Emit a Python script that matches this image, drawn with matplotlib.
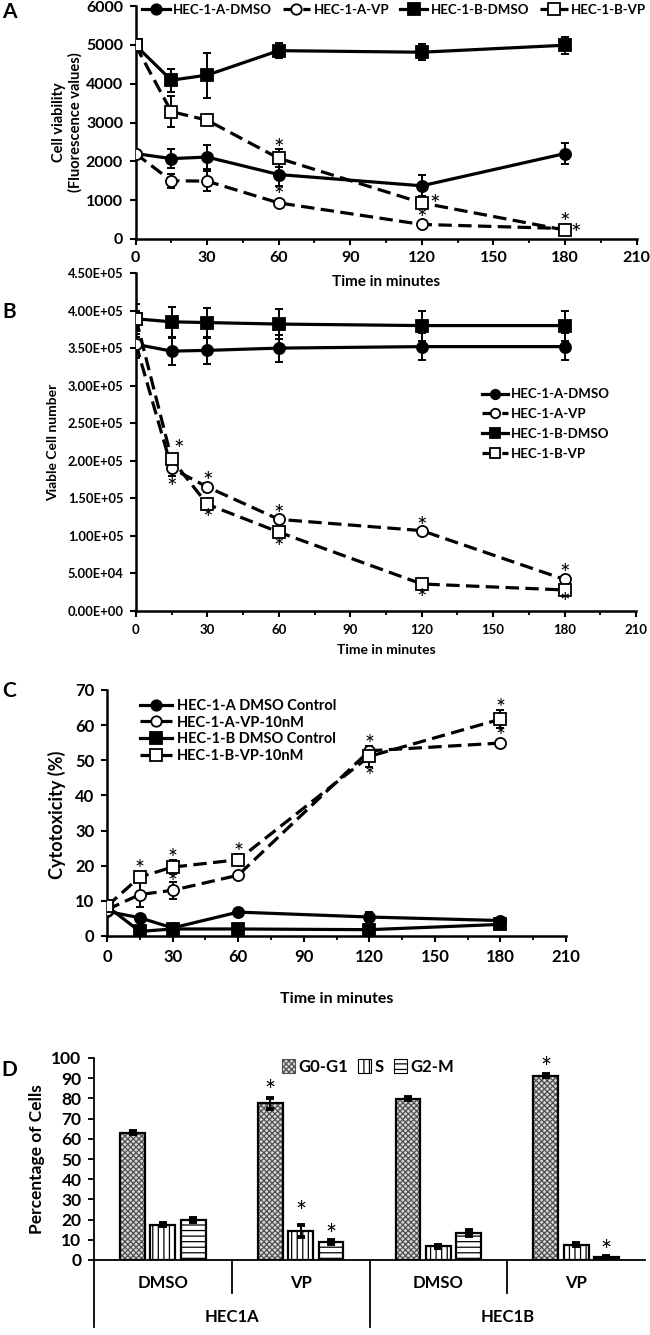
import matplotlib
matplotlib.use('Agg')
import matplotlib.pyplot as plt
from matplotlib.lines import Line2D
from matplotlib.patches import Patch
from matplotlib.ticker import MultipleLocator, FuncFormatter

plt.rcParams['font.family'] = ['Lato', 'DejaVu Sans']
plt.rcParams['font.weight'] = 'bold'
plt.rcParams['hatch.linewidth'] = 0.9

W, H = 650, 1335

# ---------------- data ----------------
time_min = [0, 15, 30, 60, 120, 180]

# Panel A : cell viability (fluorescence)
a_labels = ['HEC-1-A-DMSO', 'HEC-1-A-VP', 'HEC-1-B-DMSO', 'HEC-1-B-VP']
a_a_dmso = [2200, 2070, 2110, 1660, 1370, 2200]
a_a_dmso_err = [60, 240, 300, 300, 270, 260]
a_a_vp = [2200, 1500, 1490, 930, 375, 270]
a_a_vp_err = [60, 180, 260, 70, 60, 50]
a_b_dmso = [4990, 4090, 4220, 4850, 4810, 4990]
a_b_dmso_err = [60, 300, 580, 200, 210, 220]
a_b_vp = [4990, 3280, 3060, 2080, 930, 230]
a_b_vp_err = [60, 400, 80, 230, 140, 60]

# Panel B : viable cell number
b_labels = ['HEC-1-A-DMSO', 'HEC-1-A-VP', 'HEC-1-B-DMSO', 'HEC-1-B-VP']
b_a_dmso = [3.55e5, 3.46e5, 3.47e5, 3.50e5, 3.52e5, 3.52e5]
b_a_dmso_err = [1.8e4, 1.8e4, 1.8e4, 1.8e4, 1.8e4, 1.8e4]
b_a_vp = [3.55e5, 1.90e5, 1.65e5, 1.22e5, 1.07e5, 4.2e4]
b_a_vp_err = [1.0e4, 1.0e4, 6e3, 5e3, 4e3, 4e3]
b_b_dmso = [3.89e5, 3.85e5, 3.84e5, 3.82e5, 3.80e5, 3.80e5]
b_b_dmso_err = [2.0e4, 2.0e4, 2.0e4, 2.0e4, 2.0e4, 2.0e4]
b_b_vp = [3.89e5, 2.02e5, 1.42e5, 1.05e5, 3.6e4, 2.8e4]
b_b_vp_err = [1.0e4, 6e3, 4e3, 4e3, 6e3, 4e3]

# Panel C : cytotoxicity (%)
c_labels = ['HEC-1-A DMSO Control', 'HEC-1-A-VP-10nM', 'HEC-1-B DMSO Control', 'HEC-1-B-VP-10nM']
c_a_dmso = [7.0, 5.2, 2.3, 6.8, 5.4, 4.4]
c_a_dmso_err = [0.5, 0.5, 0.5, 0.6, 1.5, 0.8]
c_a_vp = [7.5, 11.8, 13.0, 17.3, 52.7, 54.9]
c_a_vp_err = [0.5, 3.5, 2.5, 0.6, 1.0, 0.8]
c_b_dmso = [8.5, 1.3, 2.0, 2.0, 1.8, 3.3]
c_b_dmso_err = [0.5, 0.5, 0.5, 0.5, 0.5, 0.6]
c_b_vp = [8.5, 16.8, 19.6, 21.7, 51.1, 61.7]
c_b_vp_err = [0.5, 1.5, 2.0, 1.5, 3.0, 2.5]

# Panel D : cell-cycle distribution
d_treat = ['DMSO', 'VP', 'DMSO', 'VP']
d_lines = ['HEC1A', 'HEC1B']
d_phases = ['G0-G1', 'S', 'G2-M']
d_g0g1 = [63.0, 77.5, 79.8, 91.2]
d_g0g1_err = [0.8, 2.5, 0.8, 0.8]
d_s = [17.5, 14.5, 6.8, 7.5]
d_s_err = [0.8, 3.0, 0.8, 0.8]
d_g2m = [19.8, 8.8, 13.5, 1.3]
d_g2m_err = [1.0, 1.0, 1.5, 0.5]

# significance marks: (series index, point index, dx px, dy px)
a_stars = [(3, 3, 0, 14), (1, 3, 0, 12), (3, 4, 13, 3), (1, 4, 0, 10), (3, 5, 0, 12), (3, 5, 11, 1)]
b_stars = [(3, 1, 7, 14), (1, 1, 0, -15), (1, 2, 0, 10), (3, 2, 0, -10), (1, 3, 0, 9),
           (3, 3, 0, -11), (1, 4, 0, 9), (3, 4, 0, -10), (1, 5, 0, 11), (3, 5, 0, -8)]
c_stars = [(3, 1, 0, 13), (3, 2, 0, 14), (1, 2, 0, 13), (3, 3, 0, 13), (1, 4, 0, 12),
           (3, 4, 0, -15), (3, 5, 0, 16), (1, 5, 0, 12)]
d_stars = [(0, 1, 11), (1, 1, 17), (2, 1, 9), (0, 3, 10), (2, 3, 9)]

# ---------------- helpers ----------------
fig = plt.figure(figsize=(W / 100, H / 100), dpi=100)


def add_ax(l, t, r, b):
    return fig.add_axes([l / W, 1 - b / H, (r - l) / W, (b - t) / H])


def ftext(x, y, s, **kw):
    fig.text(x / W, 1 - y / H, s, **kw)


PX = 0.72  # points per pixel

STYLES = [
    dict(ls='-', marker='o', mfc='black', ms=8),
    dict(ls=(0, (4.2, 2.0)), marker='o', mfc='white', ms=8),
    dict(ls='-', marker='s', mfc='black', ms=8.5),
    dict(ls=(0, (4.2, 2.0)), marker='s', mfc='white', ms=8.5),
]


def draw_series(ax, series, errs, lw=2.3):
    for k, (y, e) in enumerate(zip(series, errs)):
        st = STYLES[k]
        ax.errorbar(time_min, y, yerr=e, fmt='none', ecolor='black', elinewidth=1.4,
                    capsize=3.2, capthick=1.4, zorder=3)
        ax.plot(time_min, y, color='black', lw=lw, ls=st['ls'], marker=st['marker'],
                mfc=st['mfc'], mec='black', mew=1.3, ms=st['ms'], zorder=4)


def legend_handles(labels, scale=1.0):
    hs = []
    for k, lab in enumerate(labels):
        st = STYLES[k]
        hs.append(Line2D([], [], color='black', lw=2.3, ls=st['ls'], marker=st['marker'],
                         mfc=st['mfc'], mec='black', mew=1.3, ms=(st['ms'] - 0.5) * scale,
                         label=lab))
    return hs


def star_marks(ax, series, stars, fs=18):
    for s, i, dx, dy in stars:
        ax.annotate('*', xy=(time_min[i], series[s][i]), xytext=(dx * PX, dy * PX - 4),
                    textcoords='offset points', ha='center', va='center', fontsize=fs,
                    fontweight='normal', zorder=6)


def style_time_axis(ax, fs):
    ax.set_xlim(0, 210)
    ax.xaxis.set_major_locator(MultipleLocator(30))
    ax.xaxis.set_minor_locator(MultipleLocator(15))
    for sp in ['top', 'right']:
        ax.spines[sp].set_visible(False)
    for sp in ['left', 'bottom']:
        ax.spines[sp].set_linewidth(1.8)
    ax.tick_params(which='major', direction='out', length=4, width=1.5, labelsize=fs, pad=5)
    ax.tick_params(which='minor', direction='out', length=3, width=1.3)
    ax.tick_params(axis='y', which='minor', left=False)


# ---------------- Panel A ----------------
axA = add_ax(135.5, 6, 636.5, 239)
A_series = [a_a_dmso, a_a_vp, a_b_dmso, a_b_vp]
draw_series(axA, A_series, [a_a_dmso_err, a_a_vp_err, a_b_dmso_err, a_b_vp_err])
style_time_axis(axA, 11.5)
axA.set_ylim(0, 6000)
axA.yaxis.set_major_locator(MultipleLocator(1000))
star_marks(axA, A_series, a_stars)
axA.legend(handles=legend_handles(a_labels), loc='center', ncol=4, frameon=False,
           bbox_to_anchor=(394 / W, 1 - 10 / H), bbox_transform=fig.transFigure,
           fontsize=9.5, handlelength=2.1, handletextpad=0.25, columnspacing=0.8,
           borderaxespad=0)
ftext(386, 282, 'Time in minutes', ha='center', va='center', fontsize=11)
ftext(67, 122, 'Cell viability\n(Fluorescence values)', ha='center', va='center',
      rotation=90, fontsize=10.5, linespacing=1.2)
ftext(9, 12, 'A', ha='center', va='center', fontsize=15)

# ---------------- Panel B ----------------
axB = add_ax(136, 273, 636, 611)
B_series = [b_a_dmso, b_a_vp, b_b_dmso, b_b_vp]
draw_series(axB, B_series, [b_a_dmso_err, b_a_vp_err, b_b_dmso_err, b_b_vp_err])
style_time_axis(axB, 9.5)
axB.set_ylim(0, 4.5e5)
axB.yaxis.set_major_locator(MultipleLocator(5e4))
axB.yaxis.set_major_formatter(FuncFormatter(lambda v, p: '{:.2E}'.format(v)))
axB.tick_params(axis='y', labelsize=9.3)
star_marks(axB, B_series, b_stars)
axB.legend(handles=legend_handles(b_labels, 0.9), loc='center', ncol=1, frameon=False,
           bbox_to_anchor=(546 / W, 1 - 424 / H), bbox_transform=fig.transFigure,
           fontsize=9.5, handlelength=2.0, handletextpad=0.25, labelspacing=0.6,
           borderaxespad=0)
ftext(386, 650, 'Time in minutes', ha='center', va='center', fontsize=10)
ftext(53, 442, 'Viable Cell number', ha='center', va='center', rotation=90, fontsize=10)
ftext(9, 312, 'B', ha='center', va='center', fontsize=15)

# ---------------- Panel C ----------------
axC = add_ax(107, 690, 566, 936)
C_series = [c_a_dmso, c_a_vp, c_b_dmso, c_b_vp]
draw_series(axC, C_series, [c_a_dmso_err, c_a_vp_err, c_b_dmso_err, c_b_vp_err])
style_time_axis(axC, 12)
axC.set_ylim(0, 70)
axC.yaxis.set_major_locator(MultipleLocator(10))
star_marks(axC, C_series, c_stars, fs=17)
axC.legend(handles=legend_handles(c_labels), loc='center', ncol=1, frameon=False,
           bbox_to_anchor=(238 / W, 1 - 731 / H), bbox_transform=fig.transFigure,
           fontsize=10.5, handlelength=2.2, handletextpad=0.3, labelspacing=0.2,
           borderaxespad=0)
ftext(337, 999, 'Time in minutes', ha='center', va='center', fontsize=11.5)
ftext(57, 815, 'Cytotoxicity (%)', ha='center', va='center', rotation=90, fontsize=13)
ftext(9, 691, 'C', ha='center', va='center', fontsize=15)

# ---------------- Panel D ----------------
axD = add_ax(94, 1058, 645, 1260)
xc = list(range(len(d_treat)))
bw = 0.18
offs = [-0.22, 0.0, 0.22]
vals = [d_g0g1, d_s, d_g2m]
errs = [d_g0g1_err, d_s_err, d_g2m_err]
hatches = ['xxxxxx', '|||', '---']
hcols = ['#505050', 'black', 'black']
faces = ['#d8d8d8', 'white', 'white']
for k in range(3):
    xs = [c + offs[k] for c in xc]
    axD.bar(xs, vals[k], width=bw, color=faces[k], edgecolor=hcols[k], hatch=hatches[k],
            lw=0, zorder=2)
    axD.bar(xs, vals[k], width=bw, color='none', edgecolor='black', lw=1.6, zorder=3)
    axD.errorbar(xs, vals[k], yerr=errs[k], fmt='none', ecolor='black', elinewidth=1.4,
                 capsize=3.2, capthick=2.8, zorder=4)
for p, c, dy in d_stars:
    axD.annotate('*', xy=(xc[c] + offs[p], vals[p][c] + errs[p][c]),
                 xytext=(0, dy * PX - 4), textcoords='offset points', ha='center',
                 va='center', fontsize=19, fontweight='normal', zorder=6)
axD.set_xlim(-0.5, len(d_treat) - 0.5)
axD.set_ylim(0, 100)
axD.yaxis.set_major_locator(MultipleLocator(10))
axD.set_xticks([])
for sp in ['top', 'right']:
    axD.spines[sp].set_visible(False)
for sp in ['left', 'bottom']:
    axD.spines[sp].set_linewidth(1.3)
axD.tick_params(axis='y', direction='out', length=4, width=1.3, labelsize=12.5, pad=5)
tr = axD.get_xaxis_transform()
axh = 202.0
short_b = -33 / axh
long_b = -67 / axh
for xd, yb in [(-0.5, long_b), (0.5, short_b), (1.5, long_b), (2.5, short_b)]:
    axD.plot([xd, xd], [0, yb], color='black', lw=1.3, transform=tr, clip_on=False)
for c, lab in zip(xc, d_treat):
    axD.text(c, -23 / axh, lab, transform=tr, ha='center', va='center', fontsize=12)
for g, lab in enumerate(d_lines):
    axD.text(2 * g + 0.5, -57 / axh, lab, transform=tr, ha='center', va='center', fontsize=12)
d_handles = [Patch(facecolor=faces[k], edgecolor=hcols[k], hatch=hatches[k], lw=0.8,
                   label=d_phases[k]) for k in range(3)]
axD.legend(handles=d_handles, loc='center', ncol=3, frameon=False,
           bbox_to_anchor=(368 / W, 1 - 1067 / H), bbox_transform=fig.transFigure,
           fontsize=12, handlelength=0.8, handleheight=0.9, handletextpad=0.2,
           columnspacing=0.6, borderaxespad=0)
ftext(37, 1159, 'Percentage of Cells', ha='center', va='center', rotation=90, fontsize=12.5)
ftext(9, 1070, 'D', ha='center', va='center', fontsize=15)

fig.savefig('out.png', dpi=100)
